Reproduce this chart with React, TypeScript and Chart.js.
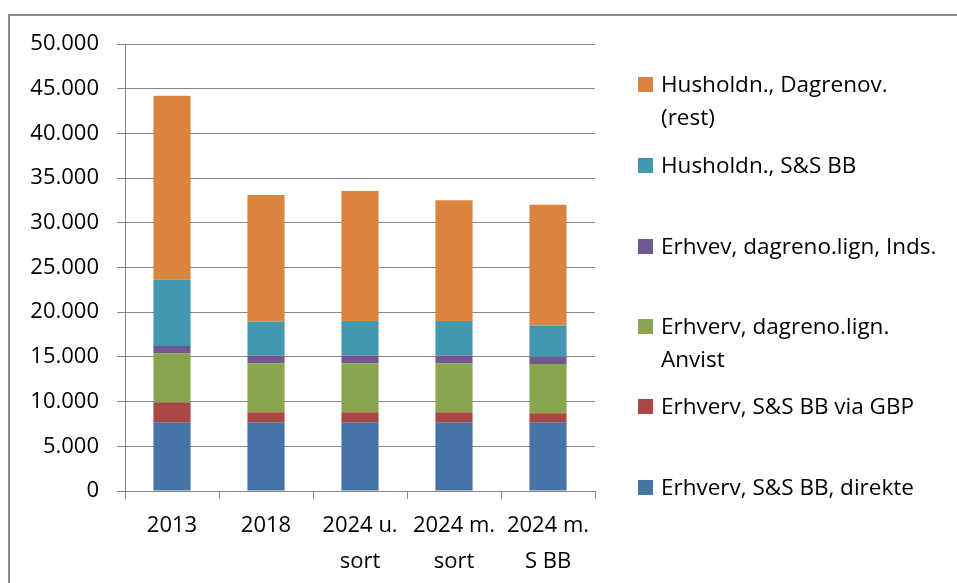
import React, { useEffect, useRef } from "react";
import { Chart, registerables } from "chart.js";

Chart.register(...registerables);

const categories: string[][] = [["2013"], ["2018"], ["2024 u.", "sort"], ["2024 m.", "sort"], ["2024 m.", "S BB"]];

const erhvervDirekte = [7700, 7700, 7700, 7700, 7700];
const erhvervViaGBP = [2230, 1120, 1120, 1120, 1000];
const erhvervAnvist = [5470, 5470, 5470, 5470, 5510];
const erhvevInds = [830, 860, 860, 860, 820];
const husholdnSSBB = [7400, 3800, 3870, 3870, 3490];
const husholdnRest = [20570, 14170, 14540, 13500, 13500];

const yTicks = [0, 5000, 10000, 15000, 20000, 25000, 30000, 35000, 40000, 45000, 50000];

const seriesNames = [
  "Erhverv, S&S BB, direkte",
  "Erhverv, S&S BB via GBP",
  "Erhverv, dagreno.lign. Anvist",
  "Erhvev, dagreno.lign, Inds.",
  "Husholdn., S&S BB",
  "Husholdn., Dagrenov. (rest)",
];
const seriesColors = ["#4572A7", "#AA4643", "#89A54E", "#71588F", "#4198AF", "#DB843D"];

const legendItems = [
  { lines: ["Husholdn., Dagrenov.", "(rest)"], color: "#DB843D", top: 85 },
  { lines: ["Husholdn., S&S BB"], color: "#4198AF", top: 166 },
  { lines: ["Erhvev, dagreno.lign, Inds."], color: "#71588F", top: 247 },
  { lines: ["Erhverv, dagreno.lign.", "Anvist"], color: "#89A54E", top: 327 },
  { lines: ["Erhverv, S&S BB via GBP"], color: "#AA4643", top: 407 },
  { lines: ["Erhverv, S&S BB, direkte"], color: "#4572A7", top: 488 },
];

const FONT = "'Open Sans', sans-serif";

function fmt(v: number): string {
  return v.toLocaleString("de-DE");
}

export default function App() {
  const ref = useRef<HTMLCanvasElement | null>(null);

  useEffect(() => {
    if (!ref.current) return;
    const data = [erhvervDirekte, erhvervViaGBP, erhvervAnvist, erhvevInds, husholdnSSBB, husholdnRest];
    const chart = new Chart(ref.current, {
      type: "bar",
      data: {
        labels: categories,
        datasets: data.map((d, i) => ({
          label: seriesNames[i],
          data: d,
          backgroundColor: seriesColors[i],
          borderWidth: 0,
          barPercentage: 0.395,
          categoryPercentage: 1,
        })),
      },
      options: {
        animation: false,
        responsive: false,
        maintainAspectRatio: false,
        layout: { padding: { left: 0, top: 44, right: 362, bottom: 0 } },
        plugins: { legend: { display: false }, tooltip: { enabled: false } },
        scales: {
          x: {
            stacked: true,
            grid: {
              offset: true,
              drawOnChartArea: false,
              drawTicks: true,
              tickLength: 8,
              color: "#868686",
            },
            border: { color: "#868686", width: 1 },
            ticks: {
              color: "#000",
              padding: 9,
              maxRotation: 0,
              autoSkip: false,
              font: { family: FONT, size: 22, lineHeight: 1.62 },
            },
            afterFit: (s: any) => {
              s.height = 92;
            },
          },
          y: {
            stacked: true,
            min: 0,
            max: 50000,
            afterBuildTicks: (s: any) => {
              s.ticks = yTicks.map((v) => ({ value: v }));
            },
            grid: { color: "#868686", lineWidth: 1, tickLength: 8 },
            border: { color: "#868686", width: 1 },
            ticks: {
              color: "#000",
              padding: 18,
              font: { family: FONT, size: 22 },
              callback: (v: any) => fmt(Number(v)),
            },
            afterFit: (s: any) => {
              s.width = 125;
            },
          },
        },
      },
    });
    return () => chart.destroy();
  }, []);

  return (
    <div style={{ position: "fixed", left: 0, top: 0, width: 957, height: 583, background: "#fff", overflow: "hidden" }}>
      <div
        style={{
          position: "absolute",
          left: 8,
          top: 14,
          width: 1000,
          height: 1000,
          border: "2px solid #8a8a8a",
          boxSizing: "border-box",
        }}
      />
      <canvas ref={ref} width={957} height={583} style={{ position: "absolute", left: 0, top: 0, width: 957, height: 583 }} />
      {legendItems.map((it, i) => (
        <div key={i} style={{ position: "absolute", left: 638, top: it.top - 18, fontFamily: FONT, fontSize: 22.5, lineHeight: "33px", color: "#000" }}>
          <div style={{ position: "absolute", left: 0, top: 10, width: 15, height: 15, background: it.color }} />
          <div style={{ marginLeft: 23, whiteSpace: "nowrap" }}>
            {it.lines.map((l, j) => (
              <div key={j}>{l}</div>
            ))}
          </div>
        </div>
      ))}
    </div>
  );
}
